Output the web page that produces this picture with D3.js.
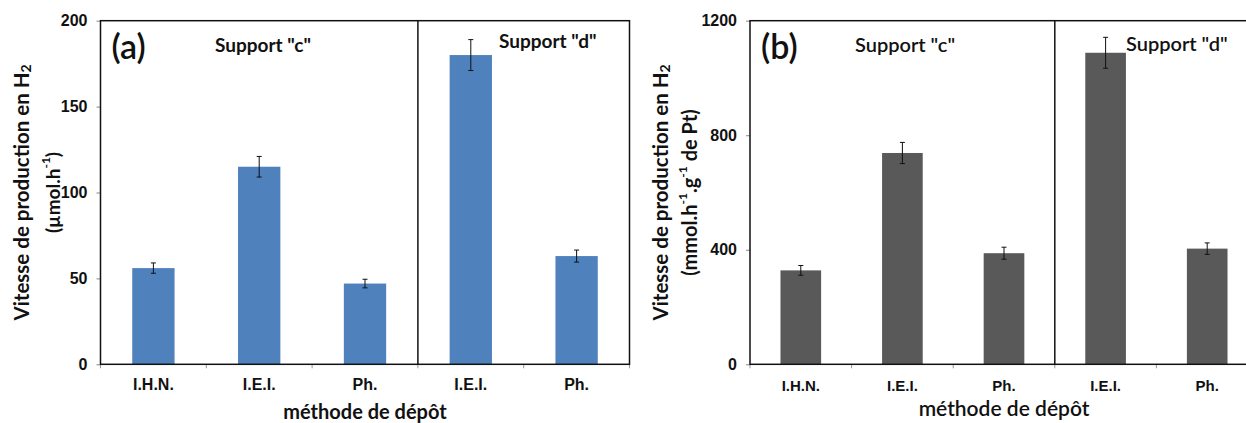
<!DOCTYPE html>
<html>
<head>
<meta charset="utf-8">
<script src="https://cdn.jsdelivr.net/npm/d3@7"></script>
<style>
  html, body { margin: 0; padding: 0; background: #fff; }
  svg { display: block; font-family: Lato, "Open Sans", sans-serif; }
</style>
</head>
<body>
<svg id="chart" width="1246" height="423"></svg>
<script>
// ---- data ----
const categories = ["I.H.N.", "I.E.I.", "Ph.", "I.E.I.", "Ph."];
const supportGroups = ["Support \"c\"", "Support \"d\""];
const valuesA = [56, 115, 47, 180, 63];      // µmol.h-1
const errorsA = [3, 6, 2.5, 9, 3.5];
const valuesB = [328, 738, 388, 1088, 404];  // mmol.h-1.g-1 de Pt
const errorsB = [17, 37, 21, 54, 20];
const ticksA = [0, 50, 100, 150, 200];
const ticksB = [0, 400, 800, 1200];
const xTitle = "méthode de dépôt";

const svg = d3.select("#chart");

function panel(opt) {
  const g = svg.append("g");
  const idx = d3.range(categories.length);
  const x = d3.scaleBand().domain(idx).range([opt.x0, opt.x1]).paddingInner(0.6).paddingOuter(0.3);
  const y = d3.scaleLinear().domain([0, opt.ymax]).range([opt.bottom, opt.top]);
  const step = (opt.x1 - opt.x0) / categories.length;

  // y axis (ticks + labels)
  const ya = g.append("g").attr("transform", `translate(${opt.x0},0)`)
    .call(d3.axisLeft(y).tickValues(opt.ticks).tickFormat(d3.format("d")).tickSize(4).tickPadding(9));
  ya.select(".domain").remove();
  ya.selectAll(".tick line").attr("stroke", "#888");
  ya.selectAll(".tick text").attr("font-size", 16).attr("font-weight", 700).attr("fill", "#111");

  // x boundary ticks
  g.selectAll(".xt").data(d3.range(categories.length + 1)).enter().append("line")
    .attr("x1", d => opt.x0 + d * step).attr("x2", d => opt.x0 + d * step)
    .attr("y1", opt.bottom).attr("y2", opt.bottom + 4)
    .attr("stroke", "#999").attr("stroke-width", 1);

  // x axis labels
  const xa = g.append("g").attr("transform", `translate(0,${opt.bottom})`)
    .call(d3.axisBottom(x).tickSize(0).tickPadding(opt.xlabPad).tickFormat(i => categories[i]));
  xa.select(".domain").remove();
  xa.selectAll(".tick text").attr("font-size", opt.xlabSize).attr("font-weight", 700).attr("fill", "#111");

  // bars
  g.selectAll(".bar").data(opt.values).enter().append("rect")
    .attr("x", (d, i) => x(i)).attr("width", x.bandwidth())
    .attr("y", d => y(d)).attr("height", d => y(0) - y(d))
    .attr("fill", opt.color);

  // error bars
  const eb = g.selectAll(".eb").data(opt.values).enter().append("g")
    .attr("stroke", "#111").attr("stroke-width", 1);
  eb.append("line")
    .attr("x1", (d, i) => x(i) + x.bandwidth() / 2).attr("x2", (d, i) => x(i) + x.bandwidth() / 2)
    .attr("y1", (d, i) => y(d + opt.errors[i])).attr("y2", (d, i) => y(d - opt.errors[i]));
  eb.append("line")
    .attr("x1", (d, i) => x(i) + x.bandwidth() / 2 - 2.5).attr("x2", (d, i) => x(i) + x.bandwidth() / 2 + 2.5)
    .attr("y1", (d, i) => y(d + opt.errors[i])).attr("y2", (d, i) => y(d + opt.errors[i]));
  eb.append("line")
    .attr("x1", (d, i) => x(i) + x.bandwidth() / 2 - 2.5).attr("x2", (d, i) => x(i) + x.bandwidth() / 2 + 2.5)
    .attr("y1", (d, i) => y(d - opt.errors[i])).attr("y2", (d, i) => y(d - opt.errors[i]));

  // box
  g.append("rect").attr("x", opt.x0).attr("y", opt.top)
    .attr("width", opt.x1 - opt.x0).attr("height", opt.bottom - opt.top)
    .attr("fill", "none").attr("stroke", "#111").attr("stroke-width", 1.5);
  // divider between supports
  g.append("line").attr("x1", opt.x0 + 3 * step).attr("x2", opt.x0 + 3 * step)
    .attr("y1", opt.top).attr("y2", opt.bottom).attr("stroke", "#111").attr("stroke-width", 1.5);

  // panel letter
  g.append("text").attr("x", opt.x0 + 11).attr("y", 59)
    .attr("font-size", 34).attr("font-weight", 600).attr("fill", "#111").text(opt.letter);

  // support labels
  opt.supportPos.forEach((p, i) => {
    g.append("text").attr("x", p[0]).attr("y", p[1])
      .attr("font-size", opt.supportSize).attr("font-weight", opt.supportWeight).attr("fill", "#111")
      .text(supportGroups[i]);
  });

  // y title
  const cy = (opt.top + opt.bottom) / 2;
  const t1 = g.append("text").attr("transform", `translate(${opt.ytx[0]},${cy}) rotate(-90)`)
    .attr("text-anchor", "middle").attr("dominant-baseline", "central")
    .attr("font-size", 20.5).attr("font-weight", 700).attr("fill", "#111");
  t1.append("tspan").text(opt.ytitle1);
  t1.append("tspan").attr("font-size", 14).attr("dy", 4).text("2");
  const t2 = g.append("text").attr("transform", `translate(${opt.ytx[1]},${cy}) rotate(-90)`)
    .attr("text-anchor", "middle").attr("dominant-baseline", "central")
    .attr("font-size", opt.yt2Size).attr("font-weight", 700).attr("fill", "#111");
  opt.ytitle2.forEach(part => {
    const s = t2.append("tspan").text(part[0]);
    if (part[1] === "sup") s.attr("font-size", 12).attr("dy", -7);
    if (part[1] === "back") s.attr("dy", 7);
  });

  // x title
  g.append("text").attr("x", (opt.x0 + opt.x1) / 2).attr("y", opt.xtitleY)
    .attr("text-anchor", "middle").attr("font-size", opt.xtitleSize).attr("font-weight", opt.xtitleWeight)
    .attr("fill", "#111").text(xTitle);
}

panel({
  x0: 100.5, x1: 629.5, top: 20.7, bottom: 364.3, ymax: 200, ticks: ticksA,
  values: valuesA, errors: errorsA, color: "#4f81bd", letter: "(a)",
  supportPos: [[215, 52], [499, 48]], supportWeight: 700, supportSize: 19,
  ytx: [21, 52], ytitle1: "Vitesse  de production en H", yt2Size: 19,
  ytitle2: [["(µmol.h"], ["-1", "sup"], [")", "back"]],
  xlabSize: 16, xlabPad: 14, xtitleY: 418.5, xtitleSize: 20, xtitleWeight: 700
});

panel({
  x0: 750, x1: 1258, top: 20.7, bottom: 364.3, ymax: 1200, ticks: ticksB,
  values: valuesB, errors: errorsB, color: "#595959", letter: "(b)",
  supportPos: [[855, 52], [1126, 51]], supportWeight: 600, supportSize: 20,
  ytx: [660, 689], ytitle1: "Vitesse de production en H", yt2Size: 20,
  ytitle2: [["(mmol.h"], ["-1", "sup"], [".g", "back"], ["-1", "sup"], [" de Pt)", "back"]],
  xlabSize: 15, xlabPad: 16, xtitleY: 416, xtitleSize: 21, xtitleWeight: 600
});
</script>
</body>
</html>
